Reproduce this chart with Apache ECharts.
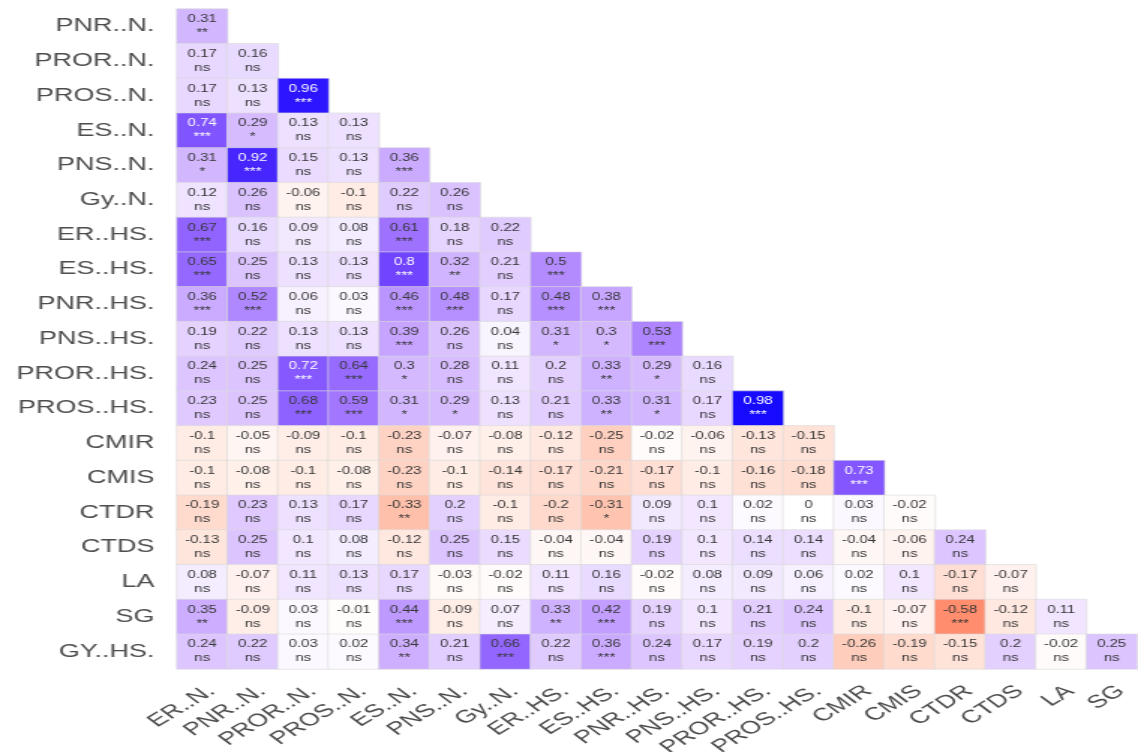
<!DOCTYPE html>
<html>
<head>
<meta charset="utf-8">
<script src="https://cdn.jsdelivr.net/npm/echarts@6/dist/echarts.min.js"></script>
<style>
  html, body { margin: 0; padding: 0; background: #ffffff; overflow: hidden; }
  /* the plot is drawn narrow and widened horizontally, giving its wide lettering */
  #chart { width: 759px; height: 752px; transform: scaleX(1.49934); transform-origin: 0 0; }
</style>
</head>
<body>
<div id="chart"></div>
<script>
// Trait names along the columns (x) and rows (y) of the lower-triangle matrix
const columns = ['ER..N.', 'PNR..N.', 'PROR..N.', 'PROS..N.', 'ES..N.', 'PNS..N.', 'Gy..N.',
  'ER..HS.', 'ES..HS.', 'PNR..HS.', 'PNS..HS.', 'PROR..HS.', 'PROS..HS.',
  'CMIR', 'CMIS', 'CTDR', 'CTDS', 'LA', 'SG'];
const rows = ['PNR..N.', 'PROR..N.', 'PROS..N.', 'ES..N.', 'PNS..N.', 'Gy..N.',
  'ER..HS.', 'ES..HS.', 'PNR..HS.', 'PNS..HS.', 'PROR..HS.', 'PROS..HS.',
  'CMIR', 'CMIS', 'CTDR', 'CTDS', 'LA', 'SG', 'GY..HS.'];

// Correlation coefficients, one list per row (row i holds columns 0..i)
const corr = [
  [0.31],
  [0.17, 0.16],
  [0.17, 0.13, 0.96],
  [0.74, 0.29, 0.13, 0.13],
  [0.31, 0.92, 0.15, 0.13, 0.36],
  [0.12, 0.26, -0.06, -0.1, 0.22, 0.26],
  [0.67, 0.16, 0.09, 0.08, 0.61, 0.18, 0.22],
  [0.65, 0.25, 0.13, 0.13, 0.8, 0.32, 0.21, 0.5],
  [0.36, 0.52, 0.06, 0.03, 0.46, 0.48, 0.17, 0.48, 0.38],
  [0.19, 0.22, 0.13, 0.13, 0.39, 0.26, 0.04, 0.31, 0.3, 0.53],
  [0.24, 0.25, 0.72, 0.64, 0.3, 0.28, 0.11, 0.2, 0.33, 0.29, 0.16],
  [0.23, 0.25, 0.68, 0.59, 0.31, 0.29, 0.13, 0.21, 0.33, 0.31, 0.17, 0.98],
  [-0.1, -0.05, -0.09, -0.1, -0.23, -0.07, -0.08, -0.12, -0.25, -0.02, -0.06, -0.13, -0.15],
  [-0.1, -0.08, -0.1, -0.08, -0.23, -0.1, -0.14, -0.17, -0.21, -0.17, -0.1, -0.16, -0.18, 0.73],
  [-0.19, 0.23, 0.13, 0.17, -0.33, 0.2, -0.1, -0.2, -0.31, 0.09, 0.1, 0.02, 0, 0.03, -0.02],
  [-0.13, 0.25, 0.1, 0.08, -0.12, 0.25, 0.15, -0.04, -0.04, 0.19, 0.1, 0.14, 0.14, -0.04, -0.06, 0.24],
  [0.08, -0.07, 0.11, 0.13, 0.17, -0.03, -0.02, 0.11, 0.16, -0.02, 0.08, 0.09, 0.06, 0.02, 0.1, -0.17, -0.07],
  [0.35, -0.09, 0.03, -0.01, 0.44, -0.09, 0.07, 0.33, 0.42, 0.19, 0.1, 0.21, 0.24, -0.1, -0.07, -0.58, -0.12, 0.11],
  [0.24, 0.22, 0.03, 0.02, 0.34, 0.21, 0.66, 0.22, 0.36, 0.24, 0.17, 0.19, 0.2, -0.26, -0.19, -0.15, 0.2, -0.02, 0.25]
];

// Significance codes matching each coefficient
const signif = [
  ['**'],
  ['ns', 'ns'],
  ['ns', 'ns', '***'],
  ['***', '*', 'ns', 'ns'],
  ['*', '***', 'ns', 'ns', '***'],
  ['ns', 'ns', 'ns', 'ns', 'ns', 'ns'],
  ['***', 'ns', 'ns', 'ns', '***', 'ns', 'ns'],
  ['***', 'ns', 'ns', 'ns', '***', '**', 'ns', '***'],
  ['***', '***', 'ns', 'ns', '***', '***', 'ns', '***', '***'],
  ['ns', 'ns', 'ns', 'ns', '***', 'ns', 'ns', '*', '*', '***'],
  ['ns', 'ns', '***', '***', '*', 'ns', 'ns', 'ns', '**', '*', 'ns'],
  ['ns', 'ns', '***', '***', '*', '*', 'ns', 'ns', '**', '*', 'ns', '***'],
  ['ns', 'ns', 'ns', 'ns', 'ns', 'ns', 'ns', 'ns', 'ns', 'ns', 'ns', 'ns', 'ns'],
  ['ns', 'ns', 'ns', 'ns', 'ns', 'ns', 'ns', 'ns', 'ns', 'ns', 'ns', 'ns', 'ns', '***'],
  ['ns', 'ns', 'ns', 'ns', '**', 'ns', 'ns', 'ns', '*', 'ns', 'ns', 'ns', 'ns', 'ns', 'ns'],
  ['ns', 'ns', 'ns', 'ns', 'ns', 'ns', 'ns', 'ns', 'ns', 'ns', 'ns', 'ns', 'ns', 'ns', 'ns', 'ns'],
  ['ns', 'ns', 'ns', 'ns', 'ns', 'ns', 'ns', 'ns', 'ns', 'ns', 'ns', 'ns', 'ns', 'ns', 'ns', 'ns', 'ns'],
  ['**', 'ns', 'ns', 'ns', '***', 'ns', 'ns', '**', '***', 'ns', 'ns', 'ns', 'ns', 'ns', 'ns', '***', 'ns', 'ns'],
  ['ns', 'ns', 'ns', 'ns', '**', 'ns', '***', 'ns', '***', 'ns', 'ns', 'ns', 'ns', 'ns', 'ns', 'ns', 'ns', 'ns', 'ns']
];

// Diverging red-white-blue ramp interpolated in CIELAB
function labToHex(L, a, b) {
  const fy = (L + 16) / 116, fx = a / 500 + fy, fz = fy - b / 200;
  const inv = t => (t * t * t > 0.008856 ? t * t * t : (t - 16 / 116) / 7.787);
  const X = 0.95047 * inv(fx), Y = inv(fy), Z = 1.08883 * inv(fz);
  const r = X * 3.2406 + Y * -1.5372 + Z * -0.4986;
  const g = X * -0.9689 + Y * 1.8758 + Z * 0.0415;
  const bl = X * 0.0557 + Y * -0.2040 + Z * 1.0570;
  const gam = c => {
    c = c > 0.0031308 ? 1.055 * Math.pow(c, 1 / 2.4) - 0.055 : 12.92 * c;
    return Math.max(0, Math.min(255, Math.round(c * 255)));
  };
  return '#' + [gam(r), gam(g), gam(bl)].map(v => v.toString(16).padStart(2, '0')).join('');
}
const LAB_WHITE = [100, 0, 0];
const LAB_BLUE = [32.303, 79.197, -107.864];
const LAB_RED = [53.241, 80.092, 67.203];
const ramp = [];
const STEPS = 40;
for (let i = 0; i <= STEPS; i++) {
  const t = -1 + (2 * i) / STEPS;
  const end = t < 0 ? LAB_RED : LAB_BLUE;
  const k = Math.abs(t);
  ramp.push(labToHex(
    LAB_WHITE[0] + (end[0] - LAB_WHITE[0]) * k,
    LAB_WHITE[1] + (end[1] - LAB_WHITE[1]) * k,
    LAB_WHITE[2] + (end[2] - LAB_WHITE[2]) * k));
}

const cells = [];
corr.forEach((rowVals, r) => {
  rowVals.forEach((v, c) => {
    const strong = Math.abs(v) > 0.7;
    cells.push({
      value: [c, r, v],
      sig: signif[r][c],
      label: { color: strong ? '#ffffff' : '#363636' }
    });
  });
});

const FONT = 'Liberation Sans, Arial, Helvetica, sans-serif';
const chart = echarts.init(document.getElementById('chart'), null, { renderer: 'canvas' });
chart.setOption({
  backgroundColor: '#ffffff',
  animation: false,
  grid: { left: 118, right: 0.7, top: 9, bottom: 83, containLabel: false, outerBoundsMode: 'none' },
  xAxis: {
    type: 'category',
    data: columns,
    axisLine: { show: false },
    axisTick: { show: false },
    splitLine: { show: false },
    axisLabel: {
      rotate: 42,
      interval: 0,
      margin: 13,
      verticalAlign: 'top',
      color: '#4d4d4d',
      fontSize: 18,
      fontFamily: FONT
    }
  },
  yAxis: {
    type: 'category',
    data: rows,
    inverse: true,
    axisLine: { show: false },
    axisTick: { show: false },
    splitLine: { show: false },
    axisLabel: {
      interval: 0,
      margin: 15,
      color: '#4d4d4d',
      fontSize: 18,
      fontFamily: FONT
    }
  },
  visualMap: {
    show: false,
    type: 'continuous',
    dimension: 2,
    min: -1,
    max: 1,
    inRange: { color: ramp }
  },
  series: [{
    type: 'heatmap',
    data: cells,
    itemStyle: { borderColor: 'rgba(218,218,218,0.75)', borderWidth: 0.8 },
    label: {
      show: true,
      fontFamily: FONT,
      fontSize: 10,
      lineHeight: 14,
      formatter: p => p.value[2] + '\n' + p.data.sig
    },
    emphasis: { disabled: true }
  }]
});
</script>
</body>
</html>
